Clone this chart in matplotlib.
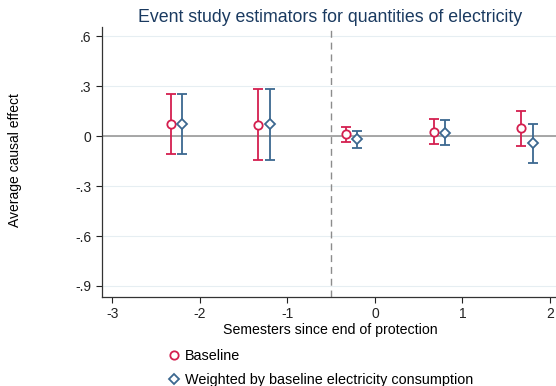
import numpy as np
import matplotlib.pyplot as plt
from matplotlib.lines import Line2D

plt.rcParams['font.family'] = ['Liberation Sans', 'DejaVu Sans']

# estimates by semester relative to end of protection
x_base = [-2.33, -1.33, -0.33, 0.67, 1.67]
est_base = [0.070, 0.065, 0.010, 0.024, 0.046]
lo_base = [-0.108, -0.144, -0.038, -0.050, -0.058]
hi_base = [0.250, 0.282, 0.056, 0.102, 0.150]

x_w = [-2.2, -1.2, -0.2, 0.8, 1.8]
est_w = [0.070, 0.070, -0.018, 0.020, -0.044]
lo_w = [-0.108, -0.144, -0.070, -0.056, -0.164]
hi_w = [0.250, 0.282, 0.028, 0.094, 0.070]

yticks = [0.6, 0.3, 0, -0.3, -0.6, -0.9]
ytick_labels = ['.6', '.3', '0', '-.3', '-.6', '-.9']
xticks = [-3, -2, -1, 0, 1, 2]

red = '#d41f4f'
blue = '#3c6890'

fig = plt.figure(figsize=(5.56, 3.86), dpi=100)
ax = fig.add_axes([0.1835, 0.2306, 0.82, 0.699])

for y in yticks:
    ax.axhline(y, color='#e6eef2', lw=0.8, zorder=0)
ax.axhline(0, color='#a0a0a0', lw=1.3, zorder=1)
ax.axvline(-0.5, color='#8c8c8c', lw=1.0, ls=(0, (5, 3.5)), zorder=1)

est_base = np.array(est_base)
est_w = np.array(est_w)
ax.errorbar(x_base, est_base,
            yerr=[est_base - np.array(lo_base), np.array(hi_base) - est_base],
            fmt='o', color=red, mfc='white', mec=red, ms=6, mew=1.3,
            elinewidth=1.3, capsize=3.5, capthick=1.3, zorder=3)
ax.errorbar(x_w, est_w,
            yerr=[est_w - np.array(lo_w), np.array(hi_w) - est_w],
            fmt='D', color=blue, mfc='white', mec=blue, ms=5.5, mew=1.3,
            elinewidth=1.3, capsize=3.5, capthick=1.3, zorder=3)

ax.set_xlim(-3.115, 2.09)
ax.set_ylim(-0.966, 0.654)
ax.set_xticks(xticks)
ax.set_xticklabels([str(v) for v in xticks])
ax.set_yticks(yticks)
ax.set_yticklabels(ytick_labels)
ax.tick_params(axis='both', labelsize=10, length=4, width=0.8, colors='#222222')
for s in ['top', 'right']:
    ax.spines[s].set_visible(False)
for s in ['left', 'bottom']:
    ax.spines[s].set_color('#333333')
    ax.spines[s].set_linewidth(0.9)

ax.set_title('Event study estimators for quantities of electricity',
             fontsize=12.8, color='#1a3a60', pad=4)
ax.set_xlabel('Semesters since end of protection', fontsize=10.2, labelpad=1)
fig.text(0.027, 0.585, 'Average causal effect', rotation=90,
         fontsize=10, ha='center', va='center')

handles = [
    Line2D([], [], ls='none', marker='o', mfc='white', mec=red, ms=6, mew=1.3),
    Line2D([], [], ls='none', marker='D', mfc='white', mec=blue, ms=5.5, mew=1.3),
]
fig.legend(handles, ['Baseline', 'Weighted by baseline electricity consumption'],
           loc='lower left', bbox_to_anchor=(0.276, -0.036), frameon=False,
           fontsize=10.4, handletextpad=0.3, handlelength=1.0, labelspacing=0.68)

fig.savefig('out.png', dpi=100, facecolor='white')
